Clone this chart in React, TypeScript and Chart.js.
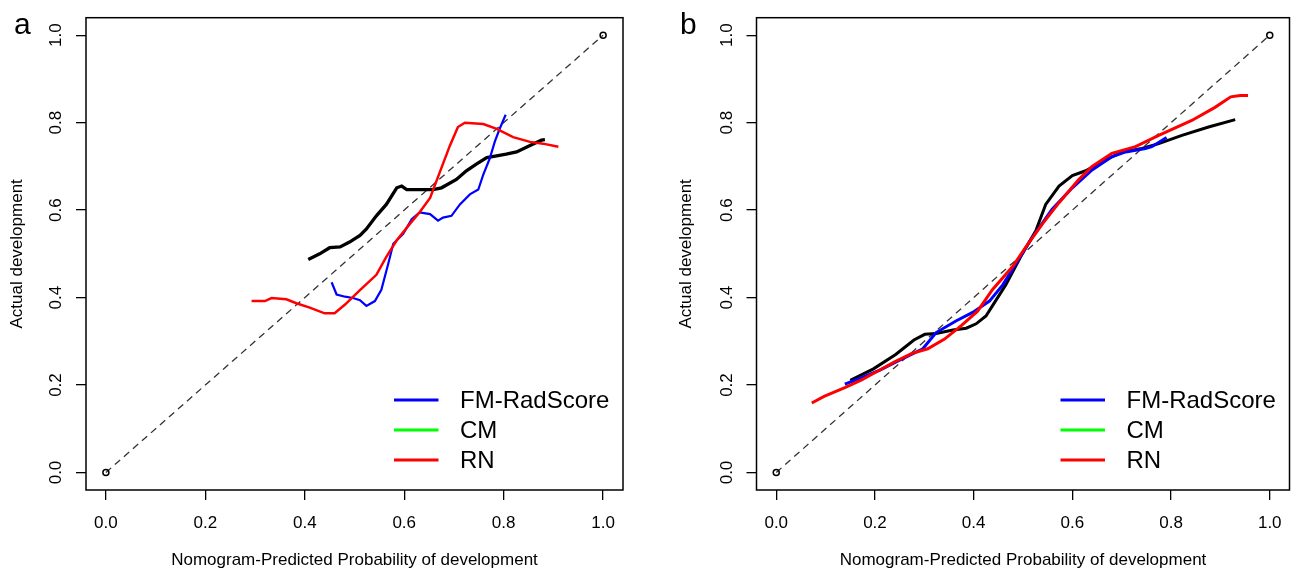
import React, { useEffect, useRef } from "react";
import { Chart, registerables } from "chart.js";

Chart.register(...registerables);

// ---------- data ----------
const tickValues = [0, 0.2, 0.4, 0.6, 0.8, 1.0];
const xTitle = "Nomogram-Predicted Probability of development";
const yTitle = "Actual development";
const legendLabels = ["FM-RadScore", "CM", "RN"];
const legendColors = ["#0000ff", "#00ff00", "#ff0000"];
const diagX = [0, 1];
const diagY = [0, 1];

// Panel a
const aBlackX = [0.407, 0.430, 0.450, 0.471, 0.490, 0.511, 0.524, 0.544, 0.564, 0.585, 0.595, 0.605, 0.630, 0.658, 0.675, 0.705, 0.725, 0.745, 0.766, 0.786, 0.805, 0.826, 0.853, 0.876, 0.883];
const aBlackY = [0.487, 0.500, 0.514, 0.516, 0.527, 0.542, 0.557, 0.587, 0.613, 0.651, 0.655, 0.647, 0.647, 0.647, 0.651, 0.670, 0.690, 0.705, 0.720, 0.724, 0.728, 0.733, 0.748, 0.760, 0.761];
const aRedX = [0.293, 0.320, 0.333, 0.363, 0.383, 0.410, 0.440, 0.460, 0.481, 0.511, 0.544, 0.564, 0.585, 0.611, 0.631, 0.652, 0.672, 0.692, 0.708, 0.722, 0.759, 0.786, 0.819, 0.853, 0.879, 0.910];
const aRedY = [0.392, 0.392, 0.399, 0.396, 0.387, 0.377, 0.364, 0.364, 0.384, 0.417, 0.452, 0.493, 0.531, 0.568, 0.595, 0.628, 0.688, 0.748, 0.790, 0.800, 0.797, 0.786, 0.767, 0.756, 0.752, 0.745];
const aBlueX = [0.454, 0.464, 0.481, 0.497, 0.511, 0.524, 0.541, 0.554, 0.568, 0.578, 0.598, 0.615, 0.631, 0.652, 0.668, 0.678, 0.695, 0.712, 0.732, 0.749, 0.759, 0.772, 0.782, 0.792, 0.804];
const aBlueY = [0.435, 0.407, 0.402, 0.399, 0.394, 0.381, 0.392, 0.418, 0.478, 0.523, 0.546, 0.579, 0.595, 0.591, 0.576, 0.583, 0.587, 0.613, 0.636, 0.647, 0.681, 0.718, 0.756, 0.786, 0.818];

// Panel b
const bRedX = [0.072, 0.097, 0.139, 0.173, 0.206, 0.240, 0.274, 0.307, 0.341, 0.375, 0.408, 0.438, 0.479, 0.506, 0.539, 0.573, 0.613, 0.640, 0.680, 0.728, 0.775, 0.842, 0.889, 0.921, 0.940, 0.956];
const bRedY = [0.159, 0.174, 0.194, 0.212, 0.232, 0.253, 0.272, 0.283, 0.305, 0.336, 0.369, 0.418, 0.471, 0.516, 0.568, 0.617, 0.670, 0.700, 0.730, 0.745, 0.771, 0.805, 0.835, 0.859, 0.862, 0.862];
const bBlackX = [0.150, 0.197, 0.242, 0.279, 0.301, 0.324, 0.358, 0.385, 0.405, 0.425, 0.438, 0.465, 0.499, 0.526, 0.546, 0.573, 0.600, 0.627, 0.667, 0.701, 0.741, 0.775, 0.822, 0.876, 0.930];
const bBlackY = [0.211, 0.237, 0.270, 0.303, 0.316, 0.318, 0.326, 0.330, 0.340, 0.358, 0.381, 0.429, 0.501, 0.553, 0.613, 0.655, 0.679, 0.690, 0.715, 0.733, 0.741, 0.752, 0.771, 0.790, 0.807];
const bBlueX = [0.139, 0.169, 0.210, 0.250, 0.297, 0.324, 0.365, 0.398, 0.432, 0.459, 0.486, 0.519, 0.559, 0.600, 0.640, 0.680, 0.708, 0.748, 0.761, 0.791];
const bBlueY = [0.202, 0.215, 0.234, 0.257, 0.283, 0.320, 0.347, 0.366, 0.392, 0.429, 0.478, 0.538, 0.602, 0.651, 0.692, 0.722, 0.733, 0.741, 0.745, 0.766];

// ---------- helpers ----------
const FAMILY = '"Liberation Sans", Arial, Helvetica, sans-serif';
const pts = (xs: number[], ys: number[]) => xs.map((x, i) => ({ x, y: ys[i] }));

const decorPlugin = {
  id: "decor",
  afterDraw(chart: any, _args: any, opts: any) {
    const { ctx, chartArea: ca } = chart;
    ctx.save();
    ctx.strokeStyle = "#000";
    ctx.lineWidth = 1.5;
    ctx.strokeRect(ca.left, ca.top, ca.right - ca.left, ca.bottom - ca.top);
    ctx.font = `24px ${FAMILY}`;
    ctx.textBaseline = "middle";
    ctx.textAlign = "left";
    legendLabels.forEach((lab, i) => {
      const y = ca.bottom - 90 + i * 30;
      ctx.strokeStyle = legendColors[i];
      ctx.lineWidth = 3;
      ctx.beginPath();
      ctx.moveTo(ca.right - 229, y);
      ctx.lineTo(ca.right - 184.5, y);
      ctx.stroke();
      ctx.fillStyle = "#000";
      ctx.fillText(lab, ca.right - 163, y + 1);
    });
    ctx.font = `30px ${FAMILY}`;
    ctx.textBaseline = "alphabetic";
    ctx.fillStyle = "#000";
    ctx.fillText(opts.letter, opts.letterX, 34);
    ctx.restore();
  },
};

type PanelProps = {
  letter: string;
  letterX: number;
  left: number;
  width: number;
  yAxisWidth: number;
  rightPad: number;
  yTitlePad: number;
  red: { x: number; y: number }[];
  blue: { x: number; y: number }[];
  black: { x: number; y: number }[];
  redW: number;
  blueW: number;
  blackW: number;
};

function Panel(p: PanelProps) {
  const ref = useRef<HTMLCanvasElement | null>(null);
  useEffect(() => {
    if (!ref.current) return;
    const tickFont = { family: FAMILY, size: 17 };
    const titleFont = { family: FAMILY, size: 17, lineHeight: 1.2 };
    const chart = new Chart(ref.current, {
      type: "line",
      data: {
        datasets: [
          { data: p.red, borderColor: "#ff0000", borderWidth: p.redW, pointRadius: 0, tension: 0 },
          { data: p.blue, borderColor: "#0000ff", borderWidth: p.blueW, pointRadius: 0, tension: 0 },
          { data: p.black, borderColor: "#000000", borderWidth: p.blackW, pointRadius: 0, tension: 0 },
          {
            data: pts(diagX, diagY),
            borderColor: "#333333",
            borderWidth: 1.3,
            borderDash: [7, 5],
            pointRadius: 3,
            pointBorderColor: "#000",
            pointBackgroundColor: "rgba(0,0,0,0)",
            pointBorderWidth: 1.5,
            tension: 0,
          },
        ],
      },
      options: {
        animation: false,
        responsive: false,
        parsing: true,
        layout: { padding: { left: 0, right: p.rightPad, top: 11, bottom: 0 } },
        plugins: {
          legend: { display: false },
          tooltip: { enabled: false },
          decor: { letter: p.letter, letterX: p.letterX },
        } as any,
        scales: {
          x: {
            type: "linear",
            min: -0.04,
            max: 1.04,
            afterBuildTicks: (s: any) => {
              s.ticks = tickValues.map((v) => ({ value: v }));
            },
            afterFit: (s: any) => {
              s.height = 81;
            },
            ticks: {
              callback: (v: any) => Number(v).toFixed(1),
              font: tickFont,
              color: "#000",
              padding: 13,
              maxRotation: 0,
              minRotation: 0,
              autoSkip: false,
            },
            grid: { display: true, drawOnChartArea: false, drawTicks: true, tickLength: 10, color: "#000", lineWidth: 1.3 },
            border: { display: false },
            title: { display: true, text: xTitle, font: titleFont, color: "#000", padding: { top: 0, bottom: 0 } },
          },
          y: {
            type: "linear",
            min: -0.04,
            max: 1.04,
            afterBuildTicks: (s: any) => {
              s.ticks = tickValues.map((v) => ({ value: v }));
            },
            afterFit: (s: any) => {
              s.width = p.yAxisWidth;
            },
            ticks: {
              callback: (v: any) => Number(v).toFixed(1),
              font: tickFont,
              color: "#000",
              padding: 7.5,
              minRotation: 90,
              maxRotation: 90,
              crossAlign: "center",
              autoSkip: false,
            },
            grid: { display: true, drawOnChartArea: false, drawTicks: true, tickLength: 10, color: "#000", lineWidth: 1.3 },
            border: { display: false },
            title: { display: true, text: yTitle, font: titleFont, color: "#000", padding: { top: p.yTitlePad, bottom: 0 } },
          },
        },
      } as any,
      plugins: [decorPlugin as any],
    });
    return () => chart.destroy();
  }, []);
  return (
    <canvas
      ref={ref}
      width={p.width}
      height={571}
      style={{ position: "absolute", left: p.left, top: 0, width: p.width, height: 571 }}
    />
  );
}

export default function App() {
  return (
    <div style={{ position: "absolute", left: 0, top: 0, width: 1295, height: 571, background: "#fff", overflow: "hidden" }}>
      <Panel
        letter="a"
        letterX={14}
        left={0}
        width={645}
        yAxisWidth={86}
        rightPad={22}
        yTitlePad={7}
        red={pts(aRedX, aRedY)}
        blue={pts(aBlueX, aBlueY)}
        black={pts(aBlackX, aBlackY)}
        redW={2.5}
        blueW={2.2}
        blackW={3.3}
      />
      <Panel
        letter="b"
        letterX={35}
        left={645}
        width={650}
        yAxisWidth={111.5}
        rightPad={2.5}
        yTitlePad={31.5}
        red={pts(bRedX, bRedY)}
        blue={pts(bBlueX, bBlueY)}
        black={pts(bBlackX, bBlackY)}
        redW={3}
        blueW={3}
        blackW={3}
      />
    </div>
  );
}
